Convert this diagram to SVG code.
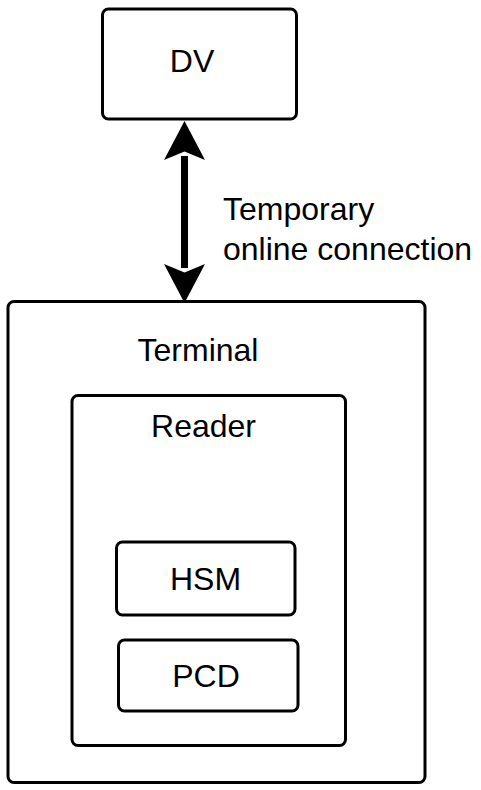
<svg xmlns="http://www.w3.org/2000/svg" width="481" height="790" viewBox="0 0 481 790">
<style>
.box{fill:#fff;stroke:#000;stroke-width:3}
.lbl{font-family:"Liberation Sans",Arial,sans-serif;font-size:32px;fill:#000;text-anchor:middle}
.conn{stroke:#000;stroke-width:7;fill:none}
</style>
<defs>
<marker id="ah" markerUnits="userSpaceOnUse" viewBox="-2 -22 44 44" markerWidth="44" markerHeight="44" refX="4" refY="0" orient="auto-start-reverse" overflow="visible">
<path d="M0,-20.5 L39,0 L0,20.5 L8.4,0 Z" fill="#000"/>
</marker>
</defs>
<rect width="481" height="790" fill="#fff"/>
<g id="terminal">
<rect class="box" x="8" y="301.5" width="417" height="481" rx="6"/>
<text class="lbl" x="198" y="361">Terminal</text>
</g>
<g id="reader">
<rect class="box" x="72" y="395.5" width="273.5" height="350" rx="6"/>
<text class="lbl" x="203.5" y="437">Reader</text>
</g>
<g id="hsm">
<rect class="box" x="116.5" y="542" width="178.5" height="73" rx="6"/>
<text class="lbl" x="205.5" y="590">HSM</text>
</g>
<g id="pcd">
<rect class="box" x="118.5" y="640" width="179.5" height="71" rx="6"/>
<text class="lbl" x="206" y="687">PCD</text>
</g>
<g id="dv">
<rect class="box" x="102.5" y="9" width="194" height="110" rx="6"/>
<text class="lbl" x="192" y="72">DV</text>
</g>
<g id="connectors">
<line class="conn" x1="184.5" y1="156" x2="184.5" y2="268" marker-start="url(#ah)" marker-end="url(#ah)"/>
<text class="lbl" x="223" y="220" style="text-anchor:start">Temporary</text>
<text class="lbl" x="223" y="260" style="text-anchor:start">online connection</text>
</g>
</svg>
